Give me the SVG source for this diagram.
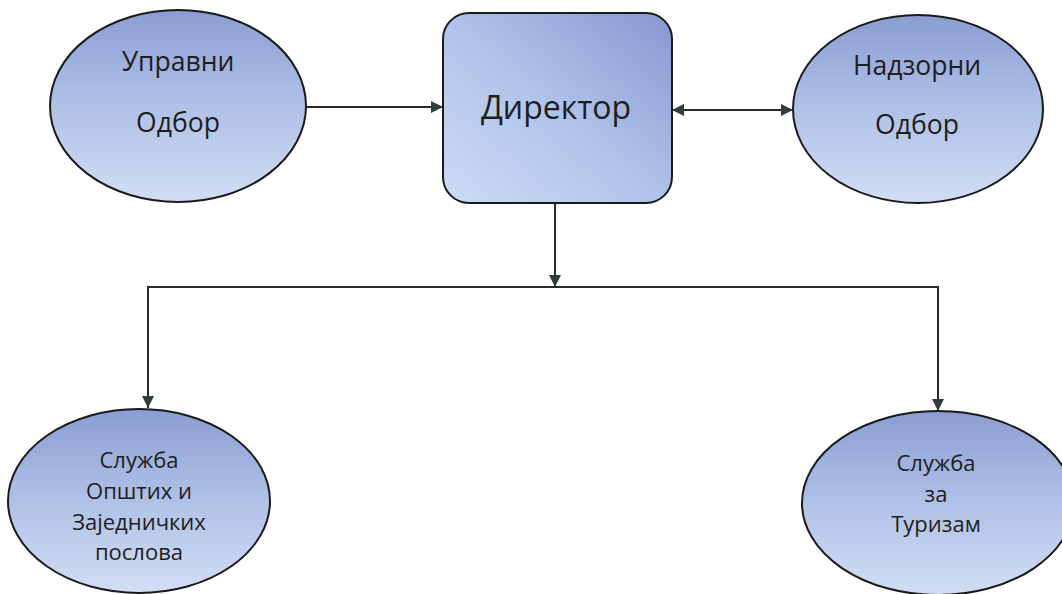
<svg xmlns="http://www.w3.org/2000/svg" width="1062" height="594" viewBox="0 0 1062 594">
<defs>
<linearGradient id="gEll" x1="0" y1="0" x2="0" y2="1">
<stop offset="0" stop-color="#8a9dd2"/>
<stop offset="0.5" stop-color="#b0c1e7"/>
<stop offset="1" stop-color="#d2def5"/>
</linearGradient>
<linearGradient id="gRect" x1="1" y1="0" x2="0" y2="1">
<stop offset="0" stop-color="#8597d0"/>
<stop offset="0.5" stop-color="#afc2e9"/>
<stop offset="1" stop-color="#cddcf5"/>
</linearGradient>
<marker id="arr" viewBox="0 0 12 12" refX="12" refY="6" markerWidth="12" markerHeight="12" markerUnits="userSpaceOnUse" orient="auto">
<path d="M0,0 L12,6 L0,12 z" fill="#2f3d3d"/>
</marker>
</defs>
<style>
.shape{stroke:#1a1a1a;stroke-width:2}
.ell{fill:url(#gEll)}
.rect{fill:url(#gRect)}
.lbl{font-family:"Open Sans","Noto Sans","DejaVu Sans",sans-serif;fill:#1e1e1e;text-anchor:middle;font-size:22px}
.top{font-size:26.5px}
.big{font-size:32px}
.conn{stroke:#2a2a2a;stroke-width:2;fill:none}
</style>
<rect width="1062" height="594" fill="#ffffff"/>
<g id="connectors">
<line class="conn" x1="305" y1="107" x2="443" y2="107" marker-end="url(#arr)"/>
<line class="conn" x1="793" y1="110" x2="672" y2="110" marker-end="url(#arr)"/>
<line class="conn" x1="700" y1="110" x2="793" y2="110" marker-end="url(#arr)"/>
<line class="conn" x1="555" y1="203" x2="555" y2="287" marker-end="url(#arr)"/>
<line class="conn" x1="148" y1="287" x2="938" y2="287"/>
<line class="conn" x1="148" y1="286" x2="148" y2="408" marker-end="url(#arr)"/>
<line class="conn" x1="938" y1="286" x2="938" y2="411" marker-end="url(#arr)"/>
</g>
<g id="upravni-odbor">
<ellipse class="shape ell" cx="178" cy="106" rx="128" ry="96"/>
<text class="lbl top" x="178" y="71">Управни</text>
<text class="lbl top" x="178" y="132">Одбор</text>
</g>
<g id="direktor">
<rect class="shape rect" x="443" y="13" width="229" height="190" rx="26" ry="26"/>
<text class="lbl big" x="556" y="119">Директор</text>
</g>
<g id="nadzorni-odbor">
<ellipse class="shape ell" cx="918" cy="109" rx="125" ry="94"/>
<text class="lbl top" x="917" y="75">Надзорни</text>
<text class="lbl top" x="917" y="134">Одбор</text>
</g>
<g id="sluzba-opstih">
<ellipse class="shape ell" cx="139" cy="501" rx="131" ry="92"/>
<text class="lbl" x="139" y="468">Служба</text>
<text class="lbl" x="139" y="499">Општих и</text>
<text class="lbl" x="139" y="530">Заједничких</text>
<text class="lbl" x="139" y="560">послова</text>
</g>
<g id="sluzba-turizam">
<ellipse class="shape ell" cx="938" cy="503" rx="136" ry="92"/>
<text class="lbl" x="936" y="471">Служба</text>
<text class="lbl" x="936" y="502">за</text>
<text class="lbl" x="936" y="532">Туризам</text>
</g>
</svg>
